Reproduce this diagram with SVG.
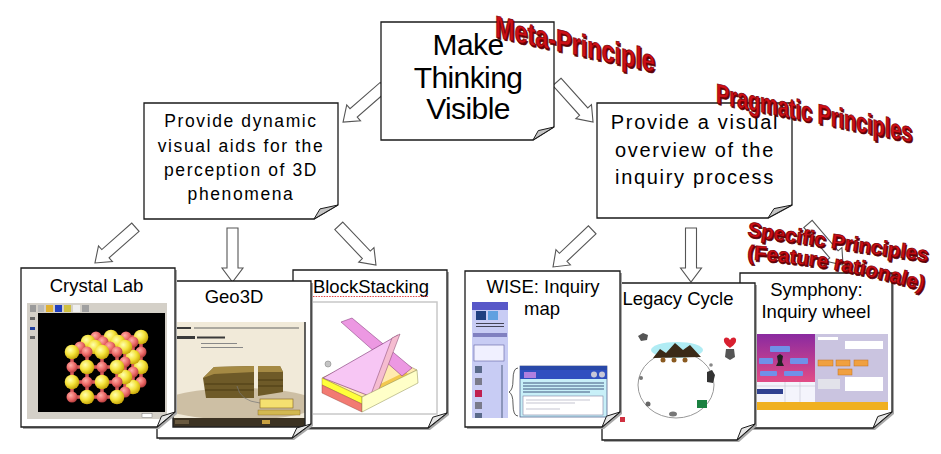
<svg xmlns="http://www.w3.org/2000/svg" width="941" height="454" viewBox="0 0 941 454">
<style>
.box{fill:#fff;stroke:#1a1a1a;stroke-width:1.3}
.fold{fill:#c4c4c4;stroke:#1a1a1a;stroke-width:1}
.cfold{fill:#e6e6e6;stroke:#1a1a1a;stroke-width:1}
.shadow{fill:#a8a8a8}
.lbl{font-family:"Liberation Sans",Arial,sans-serif;fill:#000;text-anchor:middle}
.t-main{font-size:30px;letter-spacing:-0.6px}
.t-mid{font-size:17.5px;letter-spacing:1.6px}
.t-mid2{font-size:20px;letter-spacing:1.7px}
.t-card{font-size:18.5px}
.arrow{fill:#fff;stroke:#555;stroke-width:1.1}
.wa{font-family:"Liberation Sans",Arial,sans-serif;font-weight:bold;fill:#cc0e16;stroke:#7a0000;stroke-width:0.7}
.wash{font-family:"Liberation Sans",Arial,sans-serif;font-weight:bold;fill:#5a0008;stroke:#5a0008;stroke-width:0.7}
.tl{fill:#3a3a3a}
</style>
<defs>
<path id="arr" d="M0,-5.5 H40 V-10.5 L54,0 L40,10.5 V5.5 H0 Z"/>
<radialGradient id="gY" cx="0.38" cy="0.35" r="0.65">
<stop offset="0" stop-color="#ffffb0"/><stop offset="0.55" stop-color="#f4e23a"/><stop offset="1" stop-color="#c9a80a"/>
</radialGradient>
<radialGradient id="gS" cx="0.38" cy="0.35" r="0.65">
<stop offset="0" stop-color="#ffb0a8"/><stop offset="0.6" stop-color="#ec6a68"/><stop offset="1" stop-color="#b84040"/>
</radialGradient>
<linearGradient id="gSym" x1="0" y1="0" x2="0" y2="1">
<stop offset="0" stop-color="#8a2aa0"/><stop offset="1" stop-color="#e24c86"/>
</linearGradient>
<circle id="by" r="7.3" fill="url(#gY)"/>
<circle id="bs" r="5.5" fill="url(#gS)"/>
<clipPath id="cGeo"><rect x="173" y="322" width="132" height="105"/></clipPath>
<path id="wp1" d="M747,236 L945,264"/>
<path id="wp2" d="M747,259.5 Q840,264 940,296"/>
</defs>

<g id="connectors">
<use href="#arr" class="arrow" transform="translate(383.8,86.6) rotate(139)"/>
<use href="#arr" class="arrow" transform="translate(556.9,81.9) rotate(48)"/>
<use href="#arr" class="arrow" transform="translate(135.4,227.2) rotate(138.5)"/>
<use href="#arr" class="arrow" transform="translate(232.5,228) rotate(90)"/>
<use href="#arr" class="arrow" transform="translate(338.8,225.8) rotate(46.5)"/>
<use href="#arr" class="arrow" transform="translate(592.2,229.8) rotate(136.5)"/>
<use href="#arr" class="arrow" transform="translate(691,228) rotate(90)"/>
<use href="#arr" class="arrow" transform="translate(808,223.9) rotate(49.6)"/>
</g>

<g id="node-meta">
<path class="box" d="M381,22 H554 V127 L533,140 H381 Z"/>
<path class="fold" d="M533,140 L538.3,130.6 L554,127 Z"/>
<text class="lbl t-main" x="468" y="55">Make</text>
<text class="lbl t-main" x="468" y="88">Thinking</text>
<text class="lbl t-main" x="468" y="119">Visible</text>
</g>

<g id="node-dynamic">
<path class="box" d="M144,103 H338 V205 L314,219 H144 Z"/>
<path class="fold" d="M314,219 L320,208.9 L338,205 Z"/>
<text class="lbl t-mid" x="241" y="127">Provide dynamic</text>
<text class="lbl t-mid" x="241" y="152">visual aids for the</text>
<text class="lbl t-mid" x="241" y="176">perception of 3D</text>
<text class="lbl t-mid" x="241" y="200">phenomena</text>
</g>

<g id="node-overview">
<path class="box" d="M597,103 H792 V205 L768,218 H597 Z"/>
<path class="fold" d="M768,218 L774,208.6 L792,205 Z"/>
<text class="lbl t-mid2" x="695" y="129">Provide a visual</text>
<text class="lbl t-mid2" x="695" y="157">overview of the</text>
<text class="lbl t-mid2" x="695" y="184">inquiry process</text>
</g>

<g id="node-blockstacking">
<path class="shadow" d="M295,272 H449 V415 L430,430 H295 Z"/>
<path class="box" d="M293,270 H447 V413 L428,428 H293 Z"/>
<rect x="312" y="302" width="125" height="112" fill="#fff" stroke="#c8c8c8" stroke-width="1.5"/>
<polygon points="322,378 378,351 417,370 362,397" fill="#ffeab0" stroke="#8a7a40" stroke-width="0.5"/>
<polygon points="368,390 405,372 412,376 376,394" fill="#f2c850"/>
<polygon points="341,322 352,318 412,368 402,376" fill="#ec98e2" stroke="#7a3070" stroke-width="0.5"/>
<polygon points="323,378 398,335 372,397" fill="#f7c6f4" stroke="#7a3070" stroke-width="0.6"/>
<polygon points="392,338 400,334 376,397 370,397" fill="#f5bcd0" stroke="#80406a" stroke-width="0.5"/>
<polygon points="322,378 362,397 362,404 322,385" fill="#ffff3a" stroke="#8a7a20" stroke-width="0.4"/>
<polygon points="322,385 362,404 362,412 322,393" fill="#f27a72" stroke="#8a3a30" stroke-width="0.4"/>
<polygon points="362,397 417,370 418,383 362,412" fill="#ffffc8" stroke="#8a8a50" stroke-width="0.5"/>
<circle cx="328" cy="364" r="3" fill="#c4c4c4" stroke="#888" stroke-width="0.6"/>
<path class="cfold" d="M428,428 L432.8,417.2 L447,413 Z"/>
<text class="lbl t-card" x="371" y="293">BlockStacking</text>
<path d="M313,296.5 H429" stroke="#e03030" stroke-width="0.9" stroke-dasharray="1.5 1.2" fill="none"/>
</g>

<g id="node-geo3d">
<path class="shadow" d="M159,283 H313 V426 L294,440 H159 Z"/>
<path class="box" d="M157,281 H311 V424 L292,438 H157 Z"/>
<g clip-path="url(#cGeo)">
<rect x="173" y="322" width="132" height="105" fill="#f1ead9"/>
<ellipse cx="240" cy="404" rx="78" ry="16" fill="#cdbfa4"/>
<rect x="175" y="327" width="16" height="2" class="tl"/>
<rect x="194" y="327.5" width="105" height="1" fill="#666"/>
<rect x="175" y="336" width="20" height="3" class="tl"/>
<rect x="197" y="336.5" width="28" height="2" class="tl"/>
<rect x="201" y="343" width="36" height="1" fill="#888"/>
<rect x="201" y="347" width="42" height="1" fill="#888"/>
<polygon points="203,378 214,367 254,366 254,398 206,398" fill="#6e5a28"/>
<polygon points="203,378 214,367 254,366 254,372 214,374" fill="#a58a44"/>
<path d="M205,384 H254 M205,390 H254" stroke="#4a3a12" stroke-width="1.2"/>
<polygon points="258,366 280,366 283,372 283,392 258,396" fill="#6e5a28"/>
<polygon points="258,366 280,366 283,372 258,372" fill="#a58a44"/>
<path d="M258,380 H283 M258,386 H283" stroke="#4a3a12" stroke-width="1.2"/>
<path d="M237,386 Q240,401 260,403" stroke="#777" stroke-width="0.7" fill="none"/>
<rect x="260" y="399" width="33" height="9" fill="#f5e070" stroke="#806020" stroke-width="0.6"/>
<rect x="258" y="410" width="42" height="5" fill="#d2b850" stroke="#806020" stroke-width="0.4"/>
<rect x="173" y="418" width="132" height="9" fill="#3c3222"/>
<rect x="262" y="420" width="8" height="4" fill="#c8a040"/>
<rect x="175" y="420" width="14" height="4" fill="#6a5a40"/>
</g>
<path d="M173,322 V427 H305 V322" fill="none" stroke="#222" stroke-width="1.4"/>
<path class="cfold" d="M292,438 L296.8,427.9 L311,424 Z"/>
<text class="lbl t-card" x="234" y="303">Geo3D</text>
</g>

<g id="node-crystallab">
<path class="shadow" d="M23,270 H177 V414 L159,429 H23 Z"/>
<path class="box" d="M21,268 H175 V412 L157,427 H21 Z"/>
<rect x="27" y="303" width="140" height="116" fill="#d4d0c8"/>
<rect x="30" y="305" width="6" height="7" fill="#9a9a9a"/>
<rect x="38" y="305" width="6" height="7" fill="#b8b8b8"/>
<rect x="46" y="305" width="7" height="7" fill="#e0b030"/>
<rect x="55" y="305" width="7" height="7" fill="#2040c0"/>
<rect x="64" y="305" width="7" height="7" fill="#d0c040"/>
<rect x="73" y="305" width="7" height="7" fill="#eeeeee"/>
<rect x="82" y="305" width="7" height="7" fill="#a0a0a0"/>
<rect x="30" y="317" width="5" height="3" fill="#666"/>
<rect x="30" y="327" width="5" height="3" fill="#2040a0"/>
<rect x="30" y="336" width="5" height="3" fill="#666"/>
<rect x="38" y="313" width="127" height="99" fill="#000"/>
<rect x="142" y="413.5" width="10" height="4" fill="#fff" stroke="#777" stroke-width="0.5"/>
<path d="M72,352 H117 M72,367 H117 M72,382 H117 M72,397 H117 M72,352 V397 M87,352 V397 M102,352 V397 M117,352 V397 M72,352 L96,337 H141 V382 L117,397 M117,367 L141,352 M117,382 L141,367 M87,352 L111,337 M102,352 L126,337 M80,347 H125 V392 M88,342 H133 V387" stroke="#d85858" stroke-width="3.5" fill="none"/>
<use href="#bs" x="96" y="337"/><use href="#by" x="111" y="337"/><use href="#bs" x="126" y="337"/><use href="#by" x="141" y="337"/>
<use href="#bs" x="141" y="352"/><use href="#by" x="141" y="367"/><use href="#bs" x="141" y="382"/>
<use href="#by" x="88" y="342"/><use href="#bs" x="103" y="342"/><use href="#by" x="118" y="342"/><use href="#bs" x="133" y="342"/>
<use href="#by" x="133" y="357"/><use href="#bs" x="133" y="372"/><use href="#by" x="133" y="387"/>
<use href="#bs" x="80" y="347"/><use href="#by" x="95" y="347"/><use href="#bs" x="110" y="347"/><use href="#by" x="125" y="347"/>
<use href="#bs" x="125" y="362"/><use href="#by" x="125" y="377"/><use href="#bs" x="125" y="392"/>
<use href="#by" x="72" y="352"/><use href="#bs" x="87" y="352"/><use href="#by" x="102" y="352"/><use href="#bs" x="117" y="352"/>
<use href="#bs" x="72" y="367"/><use href="#by" x="87" y="367"/><use href="#bs" x="102" y="367"/><use href="#by" x="117" y="367"/>
<use href="#by" x="72" y="382"/><use href="#bs" x="87" y="382"/><use href="#by" x="102" y="382"/><use href="#bs" x="117" y="382"/>
<use href="#bs" x="72" y="397"/><use href="#by" x="87" y="397"/><use href="#bs" x="102" y="397"/><use href="#by" x="117" y="397"/>
<path class="cfold" d="M157,427 L161.5,416.2 L175,412 Z"/>
<text class="lbl t-card" x="96.5" y="292">Crystal Lab</text>
</g>

<g id="node-symphony">
<path class="shadow" d="M742,275 H894 V414 L875,430 H742 Z"/>
<path class="box" d="M740,273 H892 V412 L873,428 H740 Z"/>
<rect x="755" y="334" width="60" height="48" fill="url(#gSym)"/>
<rect x="770" y="346" width="20" height="6" rx="1" fill="#7090e8"/>
<rect x="759" y="358" width="14" height="6" rx="1" fill="#7090e8"/>
<rect x="790" y="358" width="18" height="6" rx="1" fill="#7090e8"/>
<rect x="760" y="371" width="17" height="5" rx="1" fill="#7090e8"/>
<rect x="784" y="371" width="19" height="5" rx="1" fill="#7090e8"/>
<path d="M777,356 l3,-2 l3,2 l-1,6 l2,4 h-8 l2,-4 z" fill="#222"/>
<rect x="815" y="334" width="73" height="68" fill="#cac4e0"/>
<rect x="818" y="337" width="20" height="3" fill="#fff"/>
<rect x="845" y="341" width="38" height="8" fill="#fff"/>
<rect x="818" y="360" width="15" height="6" fill="#f0a040" stroke="#c07020" stroke-width="0.5"/>
<rect x="836" y="360" width="14" height="6" fill="#f0a040" stroke="#c07020" stroke-width="0.5"/>
<rect x="854" y="360" width="14" height="6" fill="#f0a040" stroke="#c07020" stroke-width="0.5"/>
<rect x="838" y="369" width="14" height="6" fill="#f0a040" stroke="#c07020" stroke-width="0.5"/>
<rect x="818" y="379" width="22" height="10" fill="#e2e2ea"/>
<rect x="845" y="377" width="38" height="14" fill="#fff"/>
<rect x="755" y="382" width="60" height="20" fill="#f4f4fc"/>
<rect x="755" y="389" width="28" height="5" fill="#304090"/>
<path d="M755,386 H815 M785,382 V402 M800,382 V402" stroke="#b8b8c8" stroke-width="0.5"/>
<rect x="755" y="402" width="133" height="8" fill="#f0b020"/>
<path class="cfold" d="M873,428 L877.8,416.5 L892,412 Z"/>
<text class="lbl t-card" x="816.5" y="296">Symphony:</text>
<text class="lbl t-card" x="816" y="318">Inquiry wheel</text>
</g>

<g id="node-legacy">
<path class="shadow" d="M604,285 H757 V426 L739,442 H604 Z"/>
<path class="box" d="M602,283 H755 V424 L737,440 H602 Z"/>
<ellipse cx="676" cy="385" rx="38" ry="33" fill="none" stroke="#999" stroke-width="1"/>
<ellipse cx="677" cy="350" rx="26" ry="8" fill="#b0ecf4"/>
<polygon points="653,358 660,349 666,353 675,343 683,350 690,345 701,357" fill="#3a2a18"/>
<circle cx="663" cy="360" r="2.5" fill="#8a5a20"/><circle cx="674" cy="360" r="2.5" fill="#8a5a20"/><circle cx="685" cy="360" r="2.5" fill="#8a5a20"/>
<path d="M638,336 l5,-3 l5,2 l-1,5 l-6,1 z" fill="#555"/>
<circle cx="641" cy="378" r="2" fill="#777"/>
<circle cx="648" cy="404" r="2.5" fill="#666"/>
<ellipse cx="673" cy="414" rx="4" ry="2.5" fill="#777"/>
<rect x="697" y="400" width="10" height="8" fill="#1a8040"/>
<path d="M707,372 l5,-2 l3,5 l-2,8 l-6,-1 z" fill="#333"/>
<circle cx="711" cy="365" r="1.8" fill="#888"/>
<path d="M730,340 c-2,-4 -7,-3 -6,1 c0,3 6,7 6,7 c0,0 6,-4 6,-7 c1,-4 -4,-5 -6,-1 z" fill="#d82030"/>
<path d="M726,349 h8 l1,8 l-5,3 l-5,-3 z" fill="#555"/>
<rect x="620" y="417" width="5" height="5" fill="#d03040"/>
<path class="cfold" d="M737,440 L741.5,428.5 L755,424 Z"/>
<text class="lbl t-card" x="678" y="305">Legacy Cycle</text>
</g>

<g id="node-wise">
<path class="shadow" d="M467,273 H622 V414 L604,429 H467 Z"/>
<path class="box" d="M465,271 H620 V412 L602,427 H465 Z"/>
<rect x="472" y="302" width="36" height="116" fill="#c8ccf4"/>
<rect x="472" y="302" width="36" height="8" fill="#5858c8"/>
<rect x="476" y="311" width="10" height="9" fill="#204080"/>
<rect x="488" y="311" width="10" height="9" fill="#60a0e0"/>
<rect x="476" y="323" width="28" height="1" fill="#445"/>
<rect x="476" y="326" width="28" height="1" fill="#445"/>
<rect x="473" y="333" width="34" height="4" fill="#8080c0"/>
<rect x="474" y="345" width="30" height="16" fill="#f0f0ff" stroke="#6060a0" stroke-width="0.6"/>
<rect x="475" y="366" width="7" height="7" fill="#5a6a8a"/>
<rect x="475" y="378" width="7" height="7" fill="#7a7a8a"/>
<rect x="475" y="390" width="7" height="7" fill="#c02050"/>
<rect x="475" y="402" width="7" height="7" fill="#7a7a8a"/>
<rect x="475" y="413" width="7" height="5" fill="#5a6a8a"/>
<path d="M502,365 V418" stroke="#506080" stroke-width="1"/>
<path d="M518,368 Q513,368 513,380 Q513,390 509,392 Q513,394 513,404 Q513,416 518,416" fill="none" stroke="#333" stroke-width="0.8"/>
<rect x="520" y="366" width="87" height="51" fill="#c8f0f8" stroke="#405080" stroke-width="0.7"/>
<rect x="520" y="366" width="87" height="4" fill="#2848a8"/>
<rect x="520" y="370" width="87" height="9" fill="#3050c0"/>
<rect x="524" y="372" width="12" height="6" fill="#b080e0"/>
<circle cx="594" cy="374.5" r="3" fill="#c8c8d8"/><circle cx="602" cy="374.5" r="3" fill="#c8c8d8"/>
<path d="M523,383 H604 M523,386 H604 M523,389 H604 M523,392 H590" stroke="#203060" stroke-width="0.8"/>
<rect x="523" y="396" width="80" height="19" fill="#fff" stroke="#8080a0" stroke-width="0.6"/>
<path d="M526,400 H590 M526,403 H575 M526,409 H560" stroke="#8888a0" stroke-width="0.5"/>
<path class="cfold" d="M602,427 L606.5,416.2 L620,412 Z"/>
<text class="lbl t-card" x="543" y="293">WISE: Inquiry</text>
<text class="lbl t-card" x="542" y="315">map</text>
</g>

<g id="label-meta-principle">
<text class="wash" font-size="31" transform="translate(496.3,38.6) skewY(12.4) scale(0.755 1)">Meta-Principle</text>
<text class="wa" font-size="31" transform="translate(495,37) skewY(12.4) scale(0.755 1)">Meta-Principle</text>
</g>
<g id="label-pragmatic-principles">
<text class="wash" font-size="28" transform="translate(717.3,104.6) skewY(11.3) scale(0.709 1)">Pragmatic Principles</text>
<text class="wa" font-size="28" transform="translate(716,103) skewY(11.3) scale(0.709 1)">Pragmatic Principles</text>
</g>
<g id="label-specific-principles">
<text class="wash" font-size="20.5" transform="translate(1.2,1.6)"><textPath href="#wp1">Specific Principles</textPath></text>
<text class="wa" font-size="20.5"><textPath href="#wp1">Specific Principles</textPath></text>
<text class="wash" font-size="20.5" transform="translate(1.2,1.6)"><textPath href="#wp2">(Feature rationale)</textPath></text>
<text class="wa" font-size="20.5"><textPath href="#wp2">(Feature rationale)</textPath></text>
</g>
</svg>
